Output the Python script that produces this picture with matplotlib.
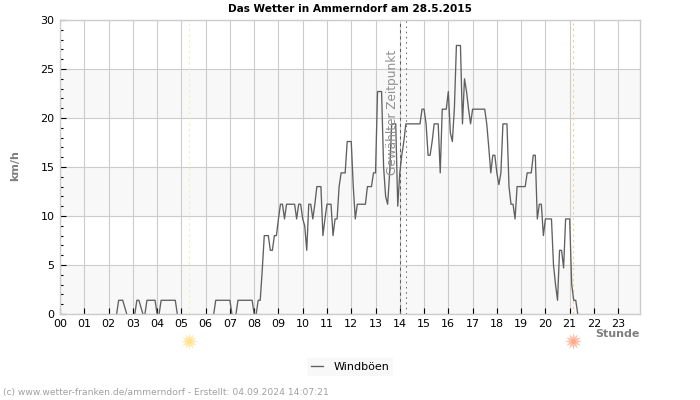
import numpy as np
import matplotlib
matplotlib.use('Agg')
import matplotlib.pyplot as plt
from matplotlib.ticker import MultipleLocator

# minutes since midnight, gust speed in km/h
minutes = [140, 145, 155, 165, 185, 190, 195, 205, 210, 215, 235, 240, 245, 250, 285, 290,
           380, 385, 420, 425, 435, 440, 475, 480, 485, 490, 495, 500, 505, 515, 520, 525,
           530, 535, 540, 545, 550, 555, 560, 580, 585, 590, 595, 600, 605, 610, 615, 620,
           625, 630, 635, 645, 650, 655, 660, 670, 675, 680, 685, 690, 695, 705, 710, 720,
           725, 730, 735, 755, 760, 770, 775, 780, 785, 795, 800, 805, 810, 815, 820, 830,
           835, 840, 845, 850, 855, 890, 895, 900, 905, 910, 915, 920, 925, 935, 940, 945,
           955, 960, 965, 970, 975, 980, 990, 995, 1000, 1005, 1010, 1015, 1020, 1050, 1055,
           1060, 1065, 1070, 1075, 1080, 1085, 1090, 1095, 1105, 1110, 1115, 1120, 1125, 1130,
           1150, 1155, 1165, 1170, 1175, 1180, 1185, 1190, 1195, 1200, 1215, 1220, 1225, 1230,
           1235, 1240, 1245, 1250, 1260, 1265, 1270, 1275, 1280]
gusts = [0, 1.4, 1.4, 0, 0, 1.4, 1.4, 0, 0, 1.4, 1.4, 0, 0, 1.4, 1.4, 0,
         0, 1.4, 1.4, 0, 0, 1.4, 1.4, 0, 0, 1.4, 1.4, 4.5, 8, 8, 6.5, 6.5,
         8, 8, 9.7, 11.2, 11.2, 9.7, 11.2, 11.2, 9.7, 11.2, 11.2, 9.7, 9, 6.5, 11.2, 11.2,
         9.7, 11.2, 13, 13, 8, 9.7, 11.2, 11.2, 8, 9.7, 9.7, 13, 14.4, 14.4, 17.6, 17.6,
         13, 9.7, 11.2, 11.2, 13, 13, 14.4, 14.4, 22.7, 22.7, 15, 12, 11.2, 14.4, 19.4, 19.4,
         11, 14.4, 16.2, 17.6, 19.4, 19.4, 20.9, 20.9, 19.4, 16.2, 16.2, 17.6, 19.4, 19.4, 14.4, 20.9,
         20.9, 22.7, 18.5, 17.6, 21, 27.4, 27.4, 19.4, 24, 22.7, 20.9, 19.4, 20.9, 20.9, 19.4,
         17, 14.4, 16.2, 16.2, 14.4, 13.2, 14.4, 19.4, 19.4, 13, 11.2, 11.2, 9.7, 13,
         13, 14.4, 14.4, 16.2, 16.2, 9.7, 11.2, 11.2, 8, 9.7, 9.7, 5, 3, 1.4,
         6.5, 6.5, 4.7, 9.7, 9.7, 3, 1.4, 1.4, 0]
hour_labels = ['%02d' % h for h in range(24)]
sunrise = 5.32
sunset = 21.15
selected = 14.01
selected_end = 14.27

fig = plt.figure(figsize=(7, 4), dpi=100)
ax = fig.add_axes([60 / 700, 1 - 314 / 400, 580 / 700, 294 / 400])
ax.set_xlim(0, 580 / 24.27)
ax.set_ylim(0, 30)

# alternating background bands
for y0 in [0, 10, 20]:
    ax.axhspan(y0, y0 + 5, color='#f8f8f8', lw=0, zorder=0)
ax.grid(True, color='#cccccc', lw=0.8, zorder=1)
ax.set_axisbelow(True)

# no line along the baseline while it is calm
hours = np.array(minutes) / 60
speed = np.array(gusts, dtype=float)
calm = np.where((speed[:-1] == 0) & (speed[1:] == 0))[0] + 1
hours = np.insert(hours, calm, np.nan)
speed = np.insert(speed, calm, np.nan)
ax.plot(hours, speed, color='#606060', lw=0.95, zorder=3, label='Windböen')

ax.axvline(sunrise, color='#f5eeb0', lw=0.8, ls=(0, (2, 3)), zorder=2)
ax.axvline(sunset, color='#f7cf90', lw=0.8, ls=(0, (2, 3)), zorder=2)
ax.axvline(selected, color='#606060', lw=0.75, ls=(0, (3, 3)), zorder=4)
ax.axvline(selected_end, color='#707070', lw=0.75, ls=(0, (1.5, 3.5)), zorder=4)

# sun markers below the axis
for when, ray, core in [(sunrise, '#ffe9a8', '#ffe28c'), (sunset, '#ffbfa8', '#ffa98c')]:
    ax.plot([when], [-2.78], marker=(12, 1, 0), ms=12, color=ray, mew=0, clip_on=False)
    ax.plot([when], [-2.78], marker='o', ms=3.5, color=core, mew=0, clip_on=False)

ax.text(13.72, 26.95, 'Gewählter Zeitpunkt', rotation=90, color='#909090', fontsize=8.7,
        ha='center', va='top', zorder=5, clip_on=False)

ax.set_xticks(np.arange(24))
ax.set_xticklabels(hour_labels)
ax.yaxis.set_major_locator(MultipleLocator(5))
ax.yaxis.set_minor_locator(MultipleLocator(1))
ax.tick_params(axis='x', which='major', direction='in', length=4.5, width=0.8, labelsize=8,
               color='black', pad=3.5)
ax.tick_params(axis='y', which='major', direction='in', length=4.5, width=0.8, labelsize=8,
               color='black', pad=4)
ax.tick_params(axis='y', which='minor', direction='in', length=2.5, width=0.8, color='black', left=True)

for side in ax.spines.values():
    side.set_color('#cccccc')
    side.set_linewidth(1.0)
    side.set_zorder(6)
for tick in ax.xaxis.get_major_ticks():
    tick.tick1line.set_zorder(7)

fig.text(349.5 / 700, 1 - 8.5 / 400, 'Das Wetter in Ammerndorf am 28.5.2015', fontsize=7.6, fontweight='bold',
         ha='center', va='center')
fig.text(15.5 / 700, 1 - 166 / 400, 'km/h', fontsize=8, fontweight='bold', color='#808080',
         rotation=90, ha='center', va='center')
fig.text(640 / 700, 1 - 334 / 400, 'Stunde', fontsize=8, fontweight='bold', color='#808080',
         ha='right', va='center')
fig.text(3 / 700, 1 - 393 / 400, '(c) www.wetter-franken.de/ammerndorf - Erstellt: 04.09.2024 14:07:21',
         fontsize=6.6, color='#a0a0a0', ha='left', va='center')

leg = fig.legend(loc='center', bbox_to_anchor=(350 / 700, 1 - 367 / 400), fontsize=8, frameon=True,
                 handlelength=1.1, handletextpad=0.9, borderpad=0.4, fancybox=False)
leg.get_frame().set_facecolor('#f8f8f8')
leg.get_frame().set_edgecolor('none')
leg.get_frame().set_alpha(1)

fig.savefig('out.png', dpi=100)
